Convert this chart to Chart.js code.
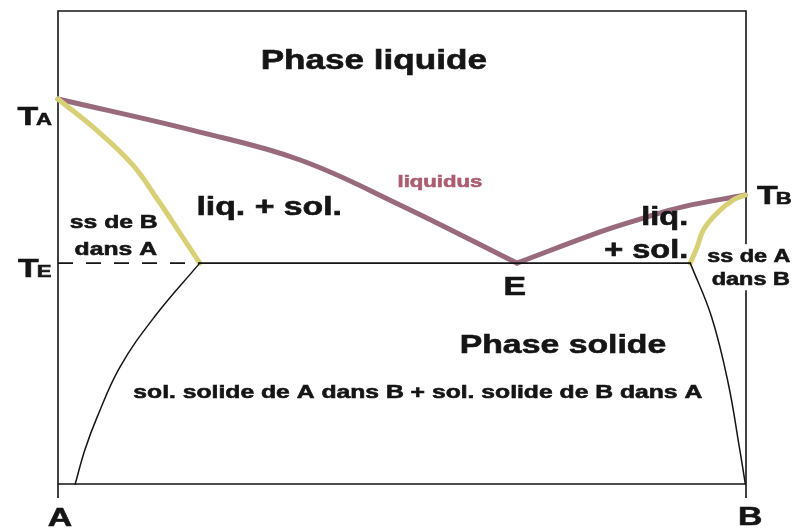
<!DOCTYPE html>
<html>
<head>
<meta charset="utf-8">
<script src="https://cdn.jsdelivr.net/npm/chart.js@4.4.1/dist/chart.umd.min.js"></script>
<style>
  html, body { margin: 0; padding: 0; background: #fff; }
  #wrap { width: 800px; height: 531px; }
</style>
</head>
<body>
<div id="wrap"><canvas id="diagramme"></canvas></div>
<script>
// x : composition (0 = A pur, 100 = B pur), y : température (échelle relative)
const TA = 81.4;
const TB = 61.1;
const TE = 46.7;
const xE = 66.7;

// liquidus
const liqGaucheX = [0, 20.6, 35.2, 49.7, xE];
const liqGaucheT = [TA, 74.4, 68.5, 59.0, TE];
const liqDroiteX = [xE, 78.8, 84.6, 90.8, 99.9];
const liqDroiteT = [TE, 53.3, 56.0, 58.6, TB];

// solidus
const solGaucheX = [0, 6.1, 10.9, 14.4, 17.7, 20.6];
const solGaucheT = [TA, 74.2, 67.4, 60.3, 53.1, TE];
const solDroiteX = [99.9, 98.1, 95.8, 93.8, 92.9, 91.9];
const solDroiteT = [TB, 60.0, 57.3, 53.7, 50.1, TE];

// solvus
const svGaucheX = [20.6, 14.0, 9.0, 5.7, 3.9, 2.5];
const svGaucheT = [TE, 35.3, 24.7, 14.2, 7.2, 0];
const svDroiteX = [91.9, 95.0, 97.4, 99.1, 99.9];
const svDroiteT = [TE, 35.3, 21.4, 7.2, 0];

// palier eutectique
const palierPointilleX = [0, 20.6];
const palierX = [20.6, 91.9];

const pts = (xs, ts) => xs.map((x, i) => ({ x: x, y: ts[i] }));
const plat = (xs, t) => xs.map(x => ({ x: x, y: t }));

const LIQ = 'rgb(152, 106, 124)';
const SOL = 'rgb(216, 208, 118)';
const NOIR = '#151515';

function courbe(data, color, width, extra) {
  return Object.assign({
    data: data,
    showLine: true,
    borderColor: color,
    borderWidth: width,
    pointRadius: 0,
    tension: 0.4,
    fill: false,
    clip: false,
    borderCapStyle: 'round'
  }, extra || {});
}

// textes posés en coordonnées du diagramme
const POLICE = '"Liberation Sans", Arial, sans-serif';
const ETIREMENT = 1.3;
const textes = [
  { t: 'Phase liquide', x: 45.9, y: 87.7, size: 27 },
  { t: 'Phase solide', x: 73.4, y: 27.7, size: 26 },
  { t: 'sol. solide de A dans B + sol. solide de B dans A', x: 52.3, y: 18.2, size: 19 },
  { t: 'liq. + sol.', x: 30.7, y: 56.9, size: 26 },
  { t: 'liquidus', x: 55.5, y: 62.8, size: 17, color: 'rgb(172, 92, 110)' },
  { t: 'ss de B', x: 8.1, y: 54.1, size: 19 },
  { t: 'dans A', x: 8.4, y: 48.4, size: 19 },
  { t: 'E', x: 66.4, y: 40.0, size: 26 },
  { t: 'liq.', x: 91.6, y: 54.8, size: 25, align: 'right' },
  { t: '+ sol.', x: 91.6, y: 47.8, size: 25, align: 'right' },
  { t: 'ss de A', x: 100.4, y: 46.9, size: 18, bg: true },
  { t: 'dans B', x: 100.7, y: 42.1, size: 18, bg: true },
  { t: 'A', x: 0.3, y: -8.9, size: 26 },
  { t: 'B', x: 100.6, y: -8.7, size: 26 }
];
// températures de fusion et eutectique : T + indice
const temperatures = [
  { t: 'T', sub: 'A', x: -5.9, y: 75.9 },
  { t: 'T', sub: 'E', x: -5.8, y: 43.8 },
  { t: 'T', sub: 'B', x: 101.6, y: 59.2 }
];

function ecrire(ctx, txt, px, py, size, align, color) {
  ctx.save();
  ctx.translate(px, py);
  ctx.scale(ETIREMENT, 1);
  ctx.font = 'bold ' + size + 'px ' + POLICE;
  ctx.textAlign = align;
  ctx.textBaseline = 'alphabetic';
  ctx.fillStyle = color;
  ctx.strokeStyle = color;
  ctx.lineWidth = 0.6;
  ctx.fillText(txt, 0, 0);
  ctx.strokeText(txt, 0, 0);
  const w = ctx.measureText(txt).width * ETIREMENT;
  ctx.restore();
  return w;
}

const cadre = {
  id: 'cadre',
  beforeDatasetsDraw(chart) {
    const { ctx, chartArea: a } = chart;
    ctx.save();
    ctx.strokeStyle = NOIR;
    ctx.lineWidth = 1.6;
    ctx.beginPath();
    ctx.moveTo(a.left, a.bottom + 14);
    ctx.lineTo(a.left, a.top);
    ctx.lineTo(a.right, a.top);
    ctx.lineTo(a.right, a.bottom + 14);
    ctx.moveTo(a.left, a.bottom);
    ctx.lineTo(a.right, a.bottom);
    ctx.stroke();
    ctx.restore();
  }
};

const etiquettes = {
  id: 'etiquettes',
  afterDatasetsDraw(chart) {
    const { ctx, scales } = chart;
    const sx = scales.x, sy = scales.y;
    textes.forEach(l => {
      const px = sx.getPixelForValue(l.x);
      const py = sy.getPixelForValue(l.y);
      const align = l.align || 'center';
      if (l.bg) {
        ctx.save();
        ctx.font = 'bold ' + l.size + 'px ' + POLICE;
        const w = ctx.measureText(l.t).width * ETIREMENT;
        ctx.fillStyle = '#fff';
        ctx.fillRect(px - w / 2 - 2, py - l.size, w + 4, l.size * 1.3);
        ctx.restore();
      }
      ecrire(ctx, l.t, px, py, l.size, align, l.color || NOIR);
    });
    temperatures.forEach(l => {
      const px = sx.getPixelForValue(l.x);
      const py = sy.getPixelForValue(l.y);
      const w = ecrire(ctx, l.t, px, py, 26, 'left', NOIR);
      ecrire(ctx, l.sub, px + w - 2, py, 17, 'left', NOIR);
    });
  }
};

new Chart(document.getElementById('diagramme'), {
  type: 'scatter',
  data: {
    datasets: [
      courbe(plat(palierPointilleX, TE), NOIR, 1.6, { borderDash: [15, 13], tension: 0, borderCapStyle: 'butt' }),
      courbe(plat(palierX, TE), NOIR, 1.6, { tension: 0 }),
      courbe(pts(svGaucheX, svGaucheT), NOIR, 1.5),
      courbe(pts(svDroiteX, svDroiteT), NOIR, 1.5),
      courbe(pts(solGaucheX, solGaucheT), SOL, 5),
      courbe(pts(solDroiteX, solDroiteT), SOL, 5),
      courbe(pts(liqGaucheX, liqGaucheT), LIQ, 5),
      courbe(pts(liqDroiteX, liqDroiteT), LIQ, 5)
    ]
  },
  options: {
    responsive: true,
    maintainAspectRatio: false,
    animation: false,
    events: [],
    layout: { padding: { left: 58, right: 54, top: 11, bottom: 47 } },
    plugins: {
      legend: { display: false },
      tooltip: { enabled: false }
    },
    scales: {
      x: { type: 'linear', min: 0, max: 100, display: false },
      y: { type: 'linear', min: 0, max: 100, display: false }
    }
  },
  plugins: [cadre, etiquettes]
});
</script>
</body>
</html>
